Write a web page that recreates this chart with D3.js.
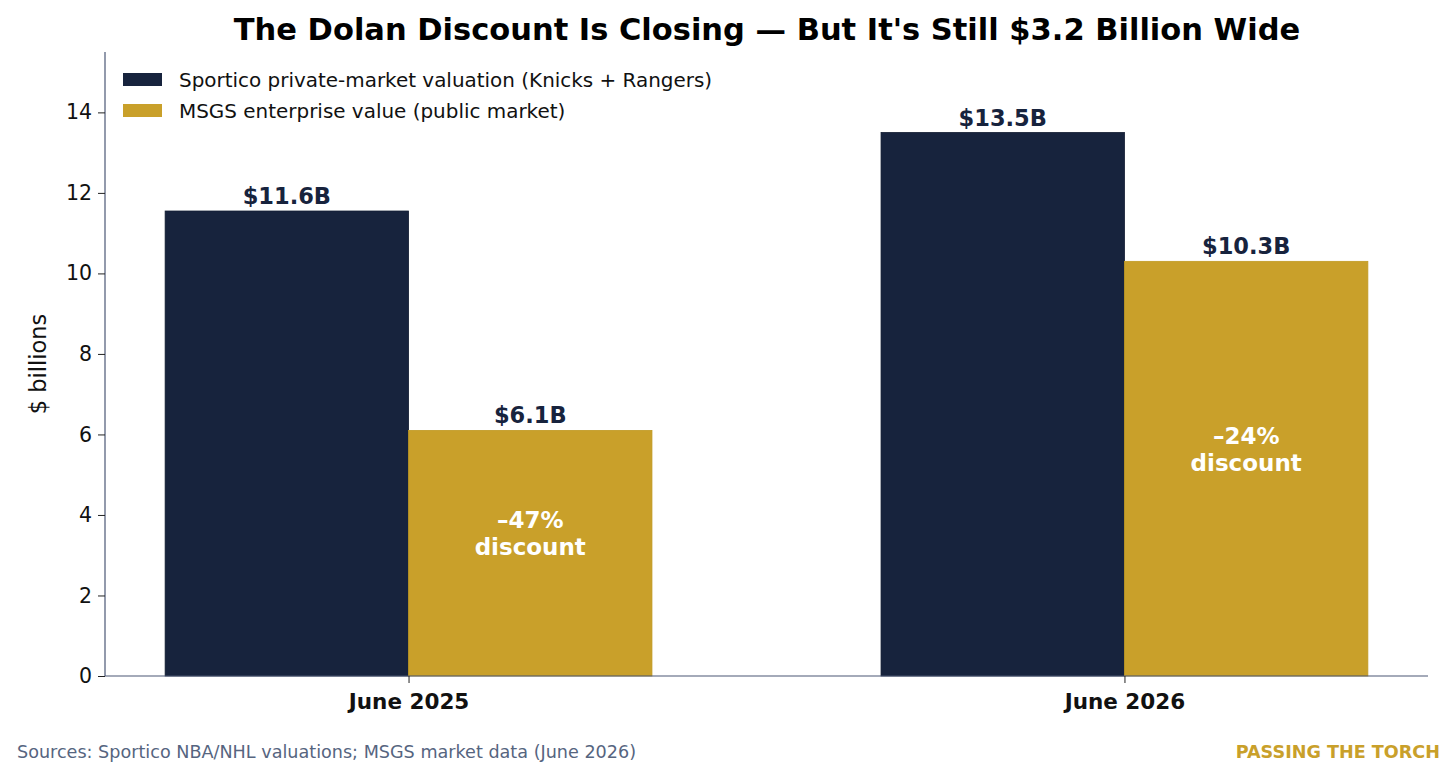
<!DOCTYPE html>
<html>
<head>
<meta charset="utf-8">
<script src="https://cdn.jsdelivr.net/npm/d3@7"></script>
<style>
  body { margin: 0; background: #fff; }
  svg { font-family: "DejaVu Sans", sans-serif; }
</style>
</head>
<body>
<svg id="chart"></svg>
<script>
// chart data
const periods = ["June 2025", "June 2026"];
const seriesNames = [
  "Sportico private-market valuation (Knicks + Rangers)",
  "MSGS enterprise value (public market)"
];
const sporticoValues = [11.55, 13.5];
const msgsValues = [6.1, 10.3];
const sporticoLabels = ["$11.6B", "$13.5B"];
const msgsLabels = ["$6.1B", "$10.3B"];
const discountLabels = ["\u201347%", "\u201324%"];
const yTicks = [0, 2, 4, 6, 8, 10, 12, 14];

const W = 1456, H = 778;
const margin = { left: 105, right: 28, top: 52, bottom: 102 };
const navy = "#17233d", gold = "#c9a02a", spine = "#4a5775";

const svg = d3.select("#chart").attr("width", W).attr("height", H);

// x positions like matplotlib: groups at 0 and 1, bars 0.34 wide
const barW = 0.34;
const x = d3.scaleLinear()
  .domain([-0.424, 1.424])
  .range([margin.left, W - margin.right]);
const y = d3.scaleLinear()
  .domain([0, 15.5])
  .range([H - margin.bottom, margin.top]);

const rows = periods.map((p, i) => ({
  i, period: p,
  spo: sporticoValues[i], msgs: msgsValues[i],
  spoLabel: sporticoLabels[i], msgsLabel: msgsLabels[i],
  disc: discountLabels[i]
}));

// bars
const g = svg.append("g");
g.selectAll(".spo")
  .data(rows)
  .enter().append("rect")
    .attr("x", d => x(d.i - barW))
    .attr("y", d => y(d.spo))
    .attr("width", x(barW) - x(0))
    .attr("height", d => y(0) - y(d.spo))
    .attr("fill", navy)
    .attr("stroke", "#0f1a30")
    .attr("stroke-width", 0.8);

g.selectAll(".msgs")
  .data(rows)
  .enter().append("rect")
    .attr("x", d => x(d.i))
    .attr("y", d => y(d.msgs))
    .attr("width", x(barW) - x(0))
    .attr("height", d => y(0) - y(d.msgs))
    .attr("fill", gold)
    .attr("stroke", "#c09a22")
    .attr("stroke-width", 0.8);

// value labels above bars
g.selectAll(".spoLabel")
  .data(rows)
  .enter().append("text")
    .attr("x", d => x(d.i - barW / 2))
    .attr("y", d => y(d.spo) - 7)
    .attr("text-anchor", "middle")
    .attr("font-size", 22.5)
    .attr("font-weight", "bold")
    .attr("fill", navy)
    .text(d => d.spoLabel);

g.selectAll(".msgsLabel")
  .data(rows)
  .enter().append("text")
    .attr("x", d => x(d.i + barW / 2))
    .attr("y", d => y(d.msgs) - 7)
    .attr("text-anchor", "middle")
    .attr("font-size", 22.5)
    .attr("font-weight", "bold")
    .attr("fill", navy)
    .text(d => d.msgsLabel);

// discount labels inside gold bars
const disc = g.selectAll(".disc")
  .data(rows)
  .enter().append("text")
    .attr("text-anchor", "middle")
    .attr("font-size", 23)
    .attr("font-weight", "bold")
    .attr("fill", "#fff");
disc.append("tspan")
  .attr("x", d => x(d.i + barW / 2))
  .attr("y", d => y(d.msgs / 2 + 0.5) - 5)
  .text(d => d.disc);
disc.append("tspan")
  .attr("x", d => x(d.i + barW / 2))
  .attr("y", d => y(d.msgs / 2 + 0.5) + 22)
  .text("discount");

// y axis
const yAxis = svg.append("g")
  .attr("transform", `translate(${margin.left},0)`)
  .call(d3.axisLeft(y).tickValues(yTicks).tickSize(7).tickPadding(6).tickFormat(d3.format("d")));
yAxis.select(".domain").attr("stroke", spine).attr("stroke-width", 1.2)
  .attr("d", `M0,${y(0)}V${margin.top}`);
yAxis.selectAll(".tick line").attr("stroke", "#222");
yAxis.selectAll(".tick text").attr("font-size", 20.5).attr("fill", "#111")
  .attr("font-family", "DejaVu Sans");

// x axis
const xAxis = svg.append("g")
  .attr("transform", `translate(0,${y(0)})`)
  .call(d3.axisBottom(x).tickValues([0, 1]).tickSize(7).tickPadding(11)
    .tickFormat(d => periods[d]));
xAxis.select(".domain").attr("stroke", spine).attr("stroke-width", 1.2)
  .attr("d", `M${margin.left},0H${W - margin.right}`);
xAxis.selectAll(".tick line").attr("stroke", "#222");
xAxis.selectAll(".tick text").attr("font-size", 21.5).attr("font-weight", "bold")
  .attr("fill", "#111").attr("font-family", "DejaVu Sans");

// y label
svg.append("text")
  .attr("transform", `translate(46,${(y(0) + margin.top) / 2}) rotate(-90)`)
  .attr("text-anchor", "middle")
  .attr("font-size", 22.5)
  .attr("fill", "#111")
  .text("$ billions");

// legend
const legend = svg.append("g").attr("transform", "translate(123,73)");
[navy, gold].forEach((c, i) => {
  legend.append("rect")
    .attr("x", 0).attr("y", i * 31)
    .attr("width", 39).attr("height", 13)
    .attr("fill", c);
  legend.append("text")
    .attr("x", 56).attr("y", i * 31 + 14)
    .attr("font-size", 19.95)
    .attr("fill", "#111")
    .text(seriesNames[i]);
});

// title
svg.append("text")
  .attr("x", 767).attr("y", 40)
  .attr("text-anchor", "middle")
  .attr("font-size", 30.5)
  .attr("font-weight", "bold")
  .attr("fill", "#000")
  .text("The Dolan Discount Is Closing \u2014 But It's Still $3.2 Billion Wide");

// footer
svg.append("text")
  .attr("x", 17).attr("y", 758)
  .attr("font-size", 17.6)
  .attr("fill", "#56657f")
  .text("Sources: Sportico NBA/NHL valuations; MSGS market data (June 2026)");
svg.append("text")
  .attr("x", 1440).attr("y", 758)
  .attr("text-anchor", "end")
  .attr("font-size", 17.6)
  .attr("font-weight", "bold")
  .attr("fill", gold)
  .text("PASSING THE TORCH");
</script>
</body>
</html>
